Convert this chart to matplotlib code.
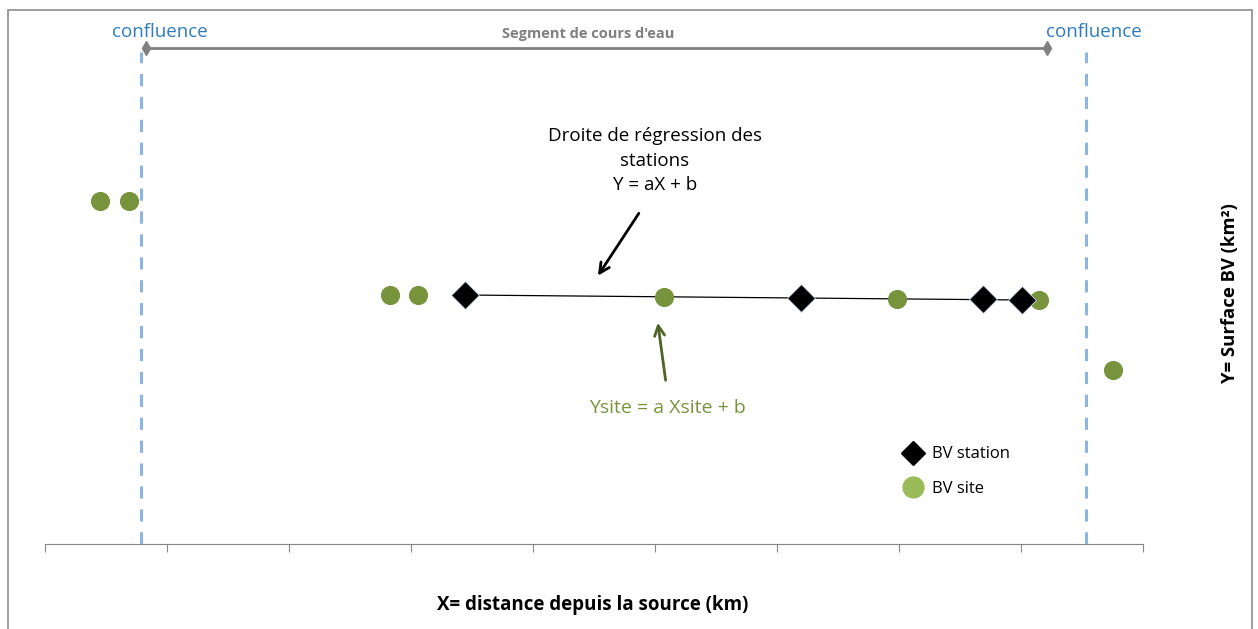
import numpy as np
import matplotlib.pyplot as plt
from matplotlib.lines import Line2D
from matplotlib.patches import Rectangle

plt.rcParams['font.family'] = ['Open Sans', 'DejaVu Sans']

# data (arbitrary units)
site_x = [0.45, 0.69, 2.83, 3.06, 5.07, 6.98, 8.15, 8.75]
site_y = [6.86, 6.86, 4.98, 4.98, 4.94, 4.90, 4.88, 3.48]
station_x = [3.44, 6.20, 7.69, 8.01]
station_y = [4.98, 4.92, 4.90, 4.88]
confluence_x = [0.79, 8.53]
segment_x = [0.83, 8.21]
segment_y = 9.92

green_dark = '#77933C'
green_light = '#9BBB59'
blue_line = '#8DB4E2'
blue_text = '#2E7BC4'

fig = plt.figure(figsize=(12.58, 6.29), dpi=100)
fig.patches.append(Rectangle((8/1258, -0.01), 1244/1258, 1 - 10/629 + 0.01,
                             transform=fig.transFigure, fill=False,
                             edgecolor='#8c8c8c', linewidth=1.2))
ax = fig.add_axes([45/1258, 85/629, 1098/1258, 500/629])
ax.set_xlim(0, 9)
ax.set_ylim(0, 10)

for s in ['top', 'right', 'left']:
    ax.spines[s].set_visible(False)
ax.spines['bottom'].set_color('#868686')
ax.set_xticks(np.arange(0, 10))
ax.set_xticklabels([])
ax.set_yticks([])
ax.tick_params(axis='x', direction='out', length=6, color='#868686')

# confluence lines
for cx in confluence_x:
    ax.plot([cx, cx], [0, 9.85], color=blue_line, lw=2.2, ls=(0, (4, 3.5)),
            clip_on=False, zorder=1)
ax.text(0.79 + 0.15, 10.06, 'confluence', color=blue_text, fontsize=13.5,
        ha='center', va='bottom')
ax.text(8.53 + 0.07, 10.06, 'confluence', color=blue_text, fontsize=13.5,
        ha='center', va='bottom')

# segment
ax.plot(segment_x, [segment_y, segment_y], color='#808080', lw=2,
        marker='d', markersize=7, clip_on=False)
ax.text(4.45, 10.2, "Segment de cours d'eau", color='#808080', fontsize=10.5,
        fontweight='bold', ha='center', va='center')

# regression line
ax.plot([station_x[0], station_x[-1]], [station_y[0], station_y[-1]],
        color='black', lw=0.9, zorder=2)

ax.scatter(site_x, site_y, s=190, color=green_dark, zorder=3, linewidths=0)
ax.scatter(station_x, station_y, s=200, marker='D', color='black', zorder=4,
           edgecolors='#c8d4e8', linewidths=0.6)

ax.text(5.0, 7.67, 'Droite de régression des\nstations\nY = aX + b',
        fontsize=13.5, ha='center', va='center', linespacing=1.45)
ax.annotate('', xy=(4.52, 5.32), xytext=(4.88, 6.66),
            arrowprops=dict(arrowstyle='->', color='black', lw=2,
                            mutation_scale=18))
ax.text(5.1, 2.72, 'Ysite = a Xsite + b', color=green_dark, fontsize=14,
        ha='center', va='center')
ax.annotate('', xy=(5.02, 4.48), xytext=(5.09, 3.22),
            arrowprops=dict(arrowstyle='->', color='#4F6228', lw=2,
                            mutation_scale=18))

handles = [Line2D([], [], marker='D', color='black', ls='', markersize=12),
           Line2D([], [], marker='o', color=green_light, ls='', markersize=15)]
ax.legend(handles, ['BV station', 'BV site'], frameon=False, fontsize=12,
          loc='upper left', bbox_to_anchor=(0.768, 0.225), handletextpad=0.5,
          labelspacing=1.1, handlelength=1.2)

fig.text(593/1258, 1 - 605/629, 'X= distance depuis la source (km)',
         fontsize=13.5, fontweight='bold', ha='center', va='center')
fig.text(1230/1258, 1 - 293/629, 'Y= Surface BV (km²)', fontsize=13.3,
         fontweight='bold', ha='center', va='center', rotation=90)

fig.savefig('out.png', dpi=100)
